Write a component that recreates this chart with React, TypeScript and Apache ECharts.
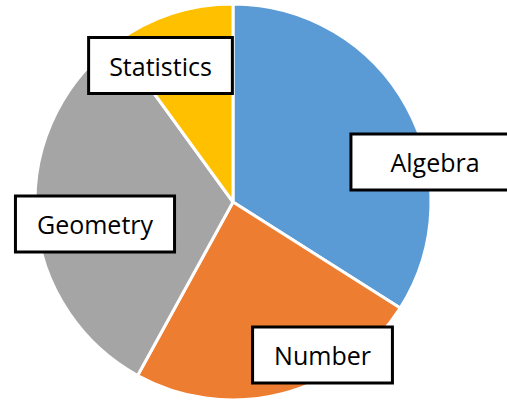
import React, { useEffect, useRef } from "react";
import * as echarts from "echarts";

const categories = ["Algebra", "Number", "Geometry", "Statistics"];
const values = [34, 24, 32, 10];
const colors = ["#5B9BD5", "#ED7D31", "#A5A5A5", "#FFC000"];
const labelCenters: [number, number][] = [
  [435, 162],
  [322.5, 355],
  [95, 224],
  [160.5, 65.5],
];
const labelPads = [
  [11.5, 38],
  [11.5, 20],
  [11.5, 20],
  [11.5, 19],
];

export default function App() {
  const ref = useRef<HTMLDivElement>(null);
  useEffect(() => {
    if (!ref.current) return;
    const chart = echarts.init(ref.current, undefined, { renderer: "svg" });
    chart.setOption({
      animation: false,
      backgroundColor: "#ffffff",
      series: [
        {
          type: "pie",
          center: [233, 202],
          radius: 198,
          startAngle: 90,
          clockwise: true,
          avoidLabelOverlap: false,
          data: categories.map((c, i) => ({
            name: c,
            value: values[i],
            itemStyle: { color: colors[i] },
            label: { padding: labelPads[i] },
          })),
          itemStyle: { borderColor: "#ffffff", borderWidth: 3 },
          label: {
            show: true,
            position: "inside",
            formatter: "{b}",
            fontFamily: "Open Sans",
            fontSize: 25,
            lineHeight: 30,
            color: "#000000",
            backgroundColor: "#ffffff",
            borderColor: "#000000",
            borderWidth: 3,
            align: "center",
            verticalAlign: "middle",
          },
          labelLine: { show: false },
          labelLayout: (params: any) => ({
            x: labelCenters[params.dataIndex][0],
            y: labelCenters[params.dataIndex][1],
            align: "center",
            verticalAlign: "middle",
          }),
          emphasis: { disabled: true },
        },
      ],
    });
    return () => chart.dispose();
  }, []);
  return (
    <div
      ref={ref}
      style={{ position: "fixed", left: 0, top: 0, width: 507, height: 404 }}
    />
  );
}
